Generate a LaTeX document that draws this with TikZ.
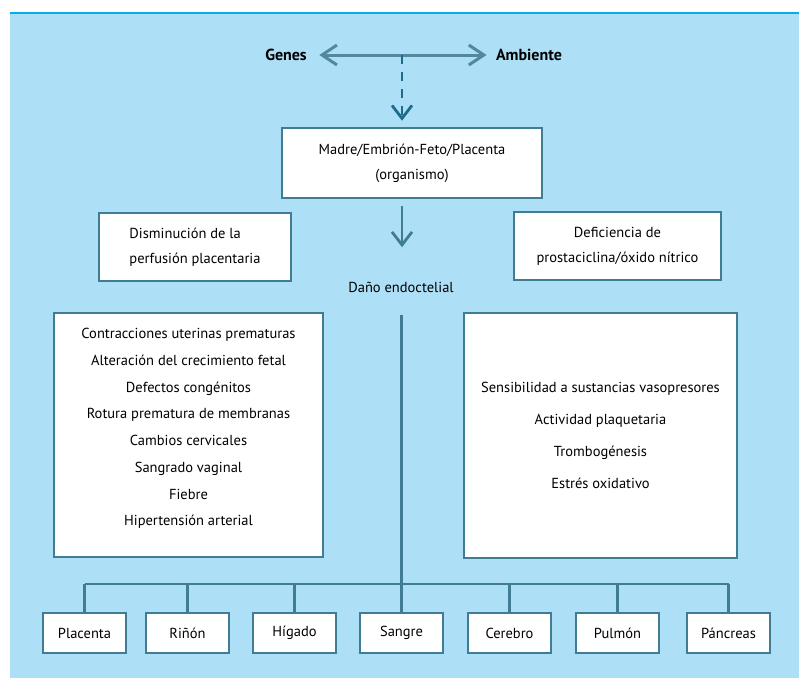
\documentclass[tikz,border=0pt]{standalone}
\usepackage{fontspec}
\setmainfont{PT Sans}
\usetikzlibrary{arrows.meta,positioning}

\definecolor{bgblue}{RGB}{173,224,247}
\definecolor{topline}{RGB}{0,174,239}
\definecolor{boxline}{RGB}{64,124,148}
\definecolor{dashline}{RGB}{30,108,140}

\begin{document}
\begin{tikzpicture}[
    x=1pt, y=-1pt,
    % Stili
    box/.style={
        rectangle, draw=boxline, fill=white, line width=2.6pt,
        font=\fontsize{14.5}{25}\selectfont, align=center
    },
    organ/.style={
        box, minimum width=83pt, minimum height=40pt
    },
    link/.style={draw=boxline, line width=2.8pt},
    arrow/.style={-{Straight Barb[length=13pt,width=20pt]}, line width=2.8pt, draw=boxline},
    both/.style={{Straight Barb[length=15pt,width=20pt]}-{Straight Barb[length=15pt,width=20pt]}, line width=3pt, draw=boxline!90!white}
]

% Sfondo
\useasboundingbox (0,0) rectangle (799,688);
\fill[bgblue] (10,13) rectangle (799,678);
\draw[topline, line width=2.2pt] (10,13) -- (799,13);

% Origine
\node[font=\fontsize{16}{18}\selectfont\bfseries] (genes) at (286,55) {Genes};
\node[font=\fontsize{16}{18}\selectfont\bfseries] (ambiente) at (529,55) {Ambiente};
\coordinate (mid) at (402,55);

\draw[both, shorten <=9pt, shorten >=6pt] (genes.east) -- (ambiente.west);

% Organismo
\node[box, minimum width=260pt, minimum height=70pt] (madre) at (412,163)
    {Madre/Embrión-Feto/Placenta\\(organismo)};

\draw[arrow, draw=dashline, dash pattern=on 9pt off 8pt, shorten >=6pt]
    (mid) -- (mid |- madre.north);

% Danno endoteliale
\node[font=\fontsize{14.5}{16}\selectfont] (dano) at (401,287) {Daño endoctelial};
\draw[arrow, shorten <=7pt, shorten >=31pt] (madre.south -| mid) -- (dano.north -| mid);

\node[box, align=left, minimum width=192pt, minimum height=68pt] (perfusion) at (195,247)
    {Disminución de la\\perfusión placentaria};
\node[box, minimum width=207pt, minimum height=68pt] (deficiencia) at (617.5,246)
    {Deficiencia de\\prostaciclina/óxido nítrico};

% Manifestazioni
\node[box, font=\fontsize{14.5}{26.7}\selectfont, minimum width=269pt, minimum height=244pt] (clinica) at (188.5,435) {
    Contracciones uterinas prematuras\\
    Alteración del crecimiento fetal\\
    Defectos congénitos\\
    Rotura prematura de membranas\\
    Cambios cervicales\\
    Sangrado vaginal\\
    Fiebre\\
    Hipertensión arterial\\[-11pt]
};

\node[box, font=\fontsize{14.5}{32}\selectfont, minimum width=273pt, minimum height=245pt] (vascular) at (600.5,435.5) {
    Sensibilidad a sustancias vasopresores\\
    Actividad plaquetaria\\
    Trombogénesis\\
    Estrés oxidativo
};

% Organi
\node[organ] (placenta) at (84.5,633) {Placenta};
\node[organ] (rinon) at (187.5,633) {Riñón};
\node[organ] (higado) at (294.5,633) {Hígado};
\node[organ] (sangre) at (401.5,633) {Sangre};
\node[organ] (cerebro) at (509.5,633) {Cerebro};
\node[organ] (pulmon) at (617.5,633) {Pulmón};
\node[organ] (pancreas) at (728.5,633) {Páncreas};

% Albero
\coordinate (trunk) at (401.5,315);
\coordinate (bus) at (401.5,584);

\draw[link] (trunk) -- (sangre.north);
\draw[link] (placenta.north |- bus) -- (pancreas.north |- bus);
\foreach \organ in {placenta,rinon,higado,cerebro,pulmon,pancreas} {
    \draw[link] (\organ.north |- bus) -- (\organ.north);
}

\end{tikzpicture}
\end{document}
